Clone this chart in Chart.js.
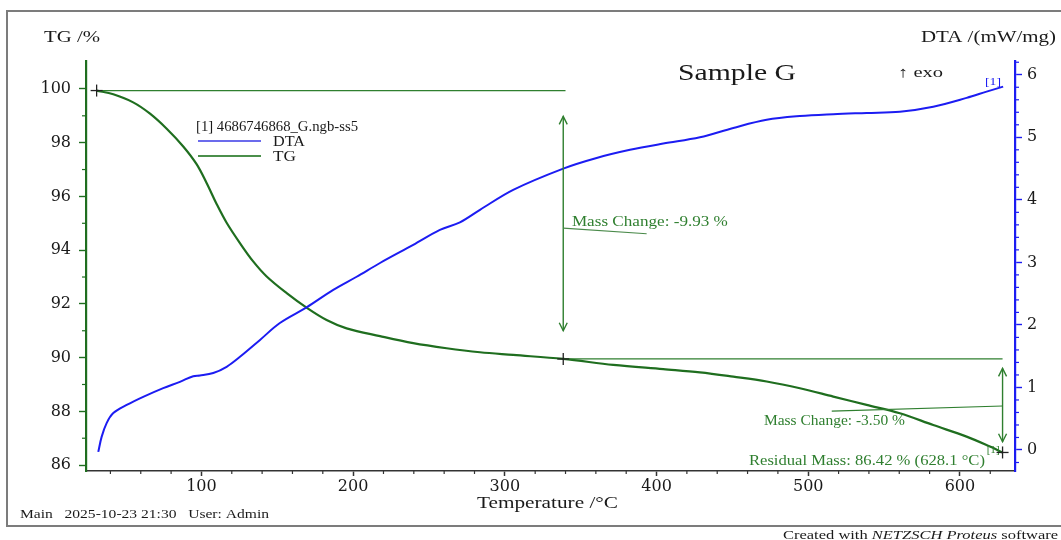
<!DOCTYPE html>
<html>
<head>
<meta charset="utf-8">
<script src="https://cdn.jsdelivr.net/npm/chart.js@4.4.1/dist/chart.umd.min.js"></script>
<style>
html,body{margin:0;padding:0;background:#fff;}
canvas{display:block;}
</style>
</head>
<body>
<canvas id="c" width="1061" height="540"></canvas>
<script>
// ---------- data ----------
const tempTG = [30.9, 41.9, 55.0, 66.1, 77.1, 88.0, 96.8, 103.4, 110.0, 116.6, 125.4, 134.1, 143.0, 156.2, 169.3, 182.5, 195.7, 217.7, 239.6, 261.6, 283.6, 305.5, 338.5, 371.5, 404.4, 428.6, 450.6, 472.6, 494.5, 516.5, 538.5, 560.4, 582.4, 604.4, 619.8, 628.1];
const tgValues = [99.94, 99.80, 99.50, 99.08, 98.52, 97.86, 97.20, 96.50, 95.72, 95.02, 94.26, 93.58, 93.02, 92.40, 91.86, 91.40, 91.09, 90.80, 90.54, 90.35, 90.20, 90.10, 89.95, 89.73, 89.57, 89.45, 89.29, 89.11, 88.86, 88.55, 88.24, 87.93, 87.49, 87.06, 86.69, 86.47];

const tempDTA = [32.0, 34.2, 37.5, 41.9, 50.7, 61.6, 74.8, 85.8, 94.6, 99.0, 107.8, 116.6, 125.4, 138.6, 151.7, 169.3, 186.9, 202.3, 217.7, 239.6, 257.2, 270.4, 283.6, 305.5, 338.5, 360.5, 382.5, 404.4, 428.6, 450.6, 472.6, 494.5, 516.5, 538.5, 560.4, 582.4, 604.4, 617.6, 628.5];
const dtaValues = [-0.03, 0.21, 0.43, 0.59, 0.72, 0.85, 0.99, 1.09, 1.18, 1.19, 1.23, 1.33, 1.49, 1.76, 2.03, 2.28, 2.56, 2.77, 2.99, 3.28, 3.52, 3.64, 3.84, 4.16, 4.50, 4.67, 4.80, 4.90, 5.00, 5.15, 5.28, 5.34, 5.37, 5.39, 5.41, 5.49, 5.63, 5.73, 5.81];

const tempTicks = [100, 200, 300, 400, 500, 600];
const tgTicks = [86, 88, 90, 92, 94, 96, 98, 100];
const dtaTicks = [0, 1, 2, 3, 4, 5, 6];

// mass-change evaluation (temperature, TG level)
const stepStart = [30.9, 99.94];
const stepMid = [338.5, 89.95];
const stepEnd = [628.1, 86.47];
const massChanges = ['Mass Change: -9.93 %', 'Mass Change: -3.50 %'];
const residualText = 'Residual Mass: 86.42 % (628.1 °C)';

// ---------- styling ----------
const SERIF = '"Liberation Serif", "Times New Roman", serif';
const TICKFONT = {family: '"DejaVu Serif", serif', size: 16};
const GREEN = '#1f6e1f';
const AGREEN = '#2f7f2f';
const BLUE = '#1c1cf2';
const DARK = '#1a1a1a';

function txt(ctx, s, x, cy, size, w, color, align) {
  ctx.save();
  ctx.font = size + 'px ' + SERIF;
  const m = ctx.measureText(s).width;
  const k = w ? w / m : 1;
  let x0 = x;
  if (align === 'right') x0 = x - m * k;
  if (align === 'center') x0 = x - m * k / 2;
  ctx.translate(x0, cy + 0.33 * size);
  ctx.scale(k, 1);
  ctx.fillStyle = color;
  ctx.textBaseline = 'alphabetic';
  ctx.textAlign = 'left';
  ctx.fillText(s, 0, 0);
  ctx.restore();
}

function line(ctx, x1, y1, x2, y2, color, w) {
  ctx.save();
  ctx.strokeStyle = color; ctx.lineWidth = w;
  ctx.beginPath(); ctx.moveTo(x1, y1); ctx.lineTo(x2, y2); ctx.stroke();
  ctx.restore();
}

function plus(ctx, x, y, color) {
  line(ctx, x - 6, y, x + 6, y, color, 1.3);
  line(ctx, x, y - 6, x, y + 6, color, 1.3);
}

function dblArrow(ctx, x, y1, y2, color) {
  line(ctx, x, y1, x, y2, color, 1.4);
  ctx.save();
  ctx.strokeStyle = color; ctx.lineWidth = 1.4;
  ctx.beginPath();
  ctx.moveTo(x - 4, y1 + 8); ctx.lineTo(x, y1); ctx.lineTo(x + 4, y1 + 8);
  ctx.moveTo(x - 4, y2 - 8); ctx.lineTo(x, y2); ctx.lineTo(x + 4, y2 - 8);
  ctx.stroke();
  ctx.restore();
}

const framePlugin = {
  id: 'frame',
  beforeDraw(chart) {
    const ctx = chart.ctx;
    ctx.save();
    ctx.fillStyle = '#fff';
    ctx.fillRect(0, 0, chart.width, chart.height);
    ctx.strokeStyle = '#7c7c7c';
    ctx.lineWidth = 2;
    ctx.strokeRect(7, 11, 1070, 515);
    ctx.restore();
  }
};

const decoPlugin = {
  id: 'deco',
  afterDraw(chart) {
    const ctx = chart.ctx;
    const sx = chart.scales.x, sT = chart.scales.yTG, sD = chart.scales.yDTA;
    const X = v => sx.getPixelForValue(v);
    const YT = v => sT.getPixelForValue(v);
    const YD = v => sD.getPixelForValue(v);
    const ca = chart.chartArea;

    // minor ticks
    for (let v = 40; v <= 620; v += 20) {
      if (v % 100 === 0) continue;
      line(ctx, X(v), ca.bottom, X(v), ca.bottom + 3, '#333', 1.2);
    }
    for (let v = 87; v <= 99; v += 2) {
      line(ctx, ca.left - 4, YT(v), ca.left, YT(v), GREEN, 1.2);
    }
    for (let i = -1; i <= 31; i++) {
      if (i % 5 === 0) continue;
      const v = i * 0.2;
      line(ctx, ca.right, YD(v), ca.right + 4, YD(v), BLUE, 1.2);
    }

    // axis titles and headings
    txt(ctx, 'TG /%', 44, 37, 16, 56, DARK);
    txt(ctx, 'DTA /(mW/mg)', 921, 37, 16, 135, DARK);
    txt(ctx, 'Sample G', 678, 72, 23, 118, DARK);
    txt(ctx, '↑ exo', 898, 72, 15, 45, DARK);
    txt(ctx, 'Temperature /°C', 477, 502, 17, 141, DARK);
    txt(ctx, 'Main   2025-10-23 21:30   User: Admin', 20, 514, 13, 249, DARK);

    // footer with italic part
    ctx.save();
    const parts = [['Created with ', ''], ['NETZSCH Proteus', 'italic '], [' software', '']];
    let tot = 0;
    parts.forEach(p => { ctx.font = p[1] + '13px ' + SERIF; p.push(ctx.measureText(p[0]).width); tot += p[2]; });
    const k = 275 / tot;
    ctx.translate(783, 535 + 4.3);
    ctx.scale(k, 1);
    let cx = 0;
    ctx.fillStyle = DARK;
    parts.forEach(p => { ctx.font = p[1] + '13px ' + SERIF; ctx.fillText(p[0], cx, 0); cx += p[2]; });
    ctx.restore();

    // legend
    txt(ctx, '[1] 4686746868_G.ngb-ss5', 196, 126, 14, 162, DARK);
    line(ctx, 198, 141, 261, 141, '#3a3ae6', 1.4);
    line(ctx, 198, 156, 261, 156, '#4b8f4b', 2);
    txt(ctx, 'DTA', 273, 141, 14, 32, DARK);
    txt(ctx, 'TG', 273, 156, 14, 23, DARK);

    // mass change annotation 1
    const xs = X(stepStart[0]), xm = X(stepMid[0]), xe = X(stepEnd[0]);
    line(ctx, xs, YT(stepStart[1]), X(340), YT(stepStart[1]), AGREEN, 1.2);
    plus(ctx, xs, YT(stepStart[1]), '#222');
    dblArrow(ctx, xm, YT(98.98), YT(91.0), AGREEN);
    line(ctx, xm, YT(94.82), X(393.5), YT(94.61), '#4a8a4a', 1.1);
    txt(ctx, massChanges[0], X(344.2), YT(95.07), 15, 156, AGREEN);

    // level line and second step
    line(ctx, xm, YT(stepMid[1]), xe, YT(stepMid[1]), AGREEN, 1.2);
    plus(ctx, xm, YT(stepMid[1]), '#222');
    dblArrow(ctx, xe, YT(89.6), YT(86.87), AGREEN);
    line(ctx, xe, YT(88.2), X(515.5), YT(88.01), AGREEN, 1.1);
    txt(ctx, massChanges[1], X(470.8), YT(87.65), 14, 141, AGREEN);
    txt(ctx, residualText, X(460.9), YT(86.19), 15, 236, AGREEN);
    txt(ctx, '[1]', X(617.6), YT(86.6), 11, 13, AGREEN);
    plus(ctx, xe, YT(stepEnd[1]), '#222');

    // DTA end marker label
    txt(ctx, '[1]', X(616.5), YD(5.89), 11, 16, BLUE);
  }
};

new Chart(document.getElementById('c').getContext('2d'), {
  type: 'line',
  data: {
    datasets: [
      {label: 'DTA', data: tempDTA.map((t, i) => ({x: t, y: dtaValues[i]})), yAxisID: 'yDTA',
       borderColor: BLUE, borderWidth: 2, pointRadius: 0, tension: 0.35, fill: false},
      {label: 'TG', data: tempTG.map((t, i) => ({x: t, y: tgValues[i]})), yAxisID: 'yTG',
       borderColor: GREEN, borderWidth: 2.2, pointRadius: 0, tension: 0.35, fill: false}
    ]
  },
  options: {
    responsive: false, animation: false, devicePixelRatio: 1,
    layout: {padding: {top: 61, left: 0, right: 0, bottom: 0}},
    plugins: {legend: {display: false}, tooltip: {enabled: false}},
    scales: {
      x: {type: 'linear', position: 'bottom', min: 23.9, max: 636.3,
          afterBuildTicks: s => { s.ticks = tempTicks.map(v => ({value: v})); },
          afterFit: s => { s.height = 69; },
          grid: {drawOnChartArea: false, drawTicks: true, tickLength: 5, tickColor: '#333', tickWidth: 1.5},
          border: {color: '#333', width: 1.6},
          ticks: {font: TICKFONT, color: DARK, autoSkip: false, maxRotation: 0, padding: 1}},
      yTG: {type: 'linear', position: 'left', min: 85.78, max: 101.04,
          afterBuildTicks: s => { s.ticks = tgTicks.map(v => ({value: v})); },
          afterFit: s => { s.width = 86; },
          grid: {drawOnChartArea: false, drawTicks: true, tickLength: 7, tickColor: GREEN, tickWidth: 1.4},
          border: {color: GREEN, width: 2.2},
          ticks: {font: TICKFONT, color: DARK, autoSkip: false, padding: 8}},
      yDTA: {type: 'linear', position: 'right', min: -0.336, max: 6.22,
          afterBuildTicks: s => { s.ticks = dtaTicks.map(v => ({value: v})); },
          afterFit: s => { s.width = 46; },
          grid: {drawOnChartArea: false, drawTicks: true, tickLength: 7, tickColor: BLUE, tickWidth: 1.4},
          border: {color: BLUE, width: 2.2},
          ticks: {font: TICKFONT, color: DARK, autoSkip: false, padding: 5}}
    }
  },
  plugins: [framePlugin, decoPlugin]
});
</script>
</body>
</html>
